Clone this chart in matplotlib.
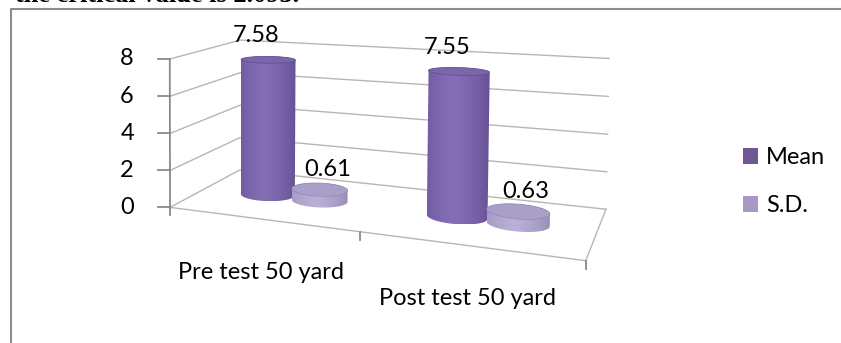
import numpy as np
import matplotlib.pyplot as plt
from matplotlib.patches import Polygon, Patch
from matplotlib.colors import to_rgb

categories = ["Pre test 50 yard", "Post test 50 yard"]
series_names = ["Mean", "S.D."]
mean_vals = [7.58, 7.55]
sd_vals = [0.61, 0.63]
y_ticks = [0, 2, 4, 6, 8]

# body colours: (edge shade, highlight, top face, legend)
palette = {
    "Mean": ("#624c92", "#8570b5", "#7b65ab", "#705793"),
    "S.D.": ("#9388b2", "#bbb1d8", "#aa9fc8", "#a898c4"),
}

plt.rcParams["font.family"] = ["Lato", "DejaVu Sans"]
FS = 17

W, H = 841, 343
fig = plt.figure(figsize=(W / 100, H / 100), dpi=100)
ax = fig.add_axes([0, 0, 1, 1])
ax.axis("off")

# screen anchors of the 3d plot box, (category u, depth w, value v) -> pixel
box_pts = [
    ((0, 0, 0), (170, 207)), ((0, 0, 2), (170, 170)), ((0, 0, 4), (170, 134)),
    ((0, 0, 6), (170, 97)), ((0, 0, 8), (170, 58)),
    ((0, 1, 0), (240, 170)), ((0, 1, 8), (240, 40)),
    ((2, 1, 0), (606, 208)), ((2, 1, 2), (607, 172)), ((2, 1, 4), (608, 135)),
    ((2, 1, 6), (608, 97)), ((2, 1, 8), (609, 58)),
    ((1, 0, 0), (359, 233)), ((2, 0, 0), (586, 260)),
]


def fit_camera(pts):
    rows = []
    for (u, w, v), (x, y) in pts:
        X = [u, w, v / 4, 1]
        rows.append(X + [0] * 4 + [-x / 100 * c for c in X])
        rows.append([0] * 4 + X + [-y / 100 * c for c in X])
    _, _, vt = np.linalg.svd(np.array(rows, dtype=float))
    return vt[-1].reshape(3, 4)


P = fit_camera(box_pts)


def project(u, w, v):
    u, w, v = np.broadcast_arrays(np.atleast_1d(u), np.atleast_1d(w), np.atleast_1d(v))
    X = np.vstack([u, w, v / 4, np.ones_like(u, dtype=float)])
    p = P @ X
    return p[0] / p[2] * 100, p[1] / p[2] * 100


def convex_hull(xs, ys):
    pts = sorted(set(zip(np.round(xs, 3), np.round(ys, 3))))

    def cross(o, a, b):
        return (a[0] - o[0]) * (b[1] - o[1]) - (a[1] - o[1]) * (b[0] - o[0])

    lower, upper = [], []
    for p in pts:
        while len(lower) >= 2 and cross(lower[-2], lower[-1], p) <= 0:
            lower.pop()
        lower.append(p)
    for p in reversed(pts):
        while len(upper) >= 2 and cross(upper[-2], upper[-1], p) <= 0:
            upper.pop()
        upper.append(p)
    return np.array(lower[:-1] + upper[:-1])


grid_kw = dict(color="#b6b6b6", lw=1.0, zorder=1)
axis_kw = dict(color="#8a8a8a", lw=1.3, zorder=2)

# value gridlines on the side and back walls
for t in y_ticks:
    x, y = project([0, 0, 2], [0, 1, 1], [t, t, t])
    ax.plot(x, y, **grid_kw)

# floor
x, y = project([0, 2, 2], [0, 0, 1], [0, 0, 0])
ax.plot(x, y, **grid_kw)

# value axis with tick marks
x, y = project([0, 0], [0, 0], [0, max(y_ticks)])
ax.plot(x, y, **axis_kw)
for t in y_ticks:
    tx, ty = project(0, 0, t)
    ax.plot([tx[0] - 12, tx[0]], [ty[0], ty[0]], **axis_kw)
    ax.text(tx[0] - 36, ty[0], str(t), ha="right", va="center", fontsize=FS)

# category ticks and labels
for i in range(len(categories) + 1):
    tx, ty = project(i, 0, 0)
    ax.plot([tx[0], tx[0]], [ty[0], ty[0] + 8], **axis_kw)
for i, name in enumerate(categories):
    tx, ty = project(i + 0.5, 0, 0)
    ax.text(tx[0], ty[0] + 53, name, ha="center", va="center", fontsize=FS)

bar_d = 0.29       # cylinder diameter along the category axis
bar_rw = 0.15      # cylinder radius along the depth axis
bar_w = 0.5        # depth position of the cylinders
label_off = {"Mean": (-12, -24), "S.D.": (8, -20)}


def shade_strip(c_edge, c_mid, n=200):
    t = np.linspace(0, 1, n)
    k = np.clip(1 - np.abs(t - 0.42) / 0.58, 0, 1) ** 0.6
    a, b = np.array(to_rgb(c_edge)), np.array(to_rgb(c_mid))
    return (a[None, :] * (1 - k[:, None]) + b[None, :] * k[:, None])[None, :, :]


theta = np.linspace(0, 2 * np.pi, 120)
z = 3
for ci in range(len(categories)):
    for si, (name, vals) in enumerate(zip(series_names, [mean_vals, sd_vals])):
        val = vals[ci]
        uc = ci + 0.5 + (si - 0.5) * bar_d
        cu = uc + bar_d / 2 * np.cos(theta)
        cw = bar_w + bar_rw * np.sin(theta)
        bx, by = project(cu, cw, 0)
        tx, ty = project(cu, cw, val)
        hull = convex_hull(np.r_[bx, tx], np.r_[by, ty])
        edge, mid, top, _ = palette[name]
        body = Polygon(hull, closed=True, facecolor="none", edgecolor="none", zorder=z)
        ax.add_patch(body)
        im = ax.imshow(shade_strip(edge, mid),
                       extent=(hull[:, 0].min(), hull[:, 0].max(), hull[:, 1].max(), hull[:, 1].min()),
                       aspect="auto", interpolation="bilinear", zorder=z)
        im.set_clip_path(body)
        ax.add_patch(Polygon(np.c_[tx, ty], closed=True, facecolor=top,
                             edgecolor=edge, lw=0.5, zorder=z + 0.5))
        lx, ly = project(uc, bar_w, val)
        dx, dy = label_off[name]
        ax.text(lx[0] + dx, ly[0] + dy, f"{val:.2f}", ha="center", va="center",
                fontsize=FS, zorder=10)
        z += 1

# legend
handles = [Patch(facecolor=palette[n][3], edgecolor="none") for n in series_names]
ax.legend(handles, series_names, loc="upper left", bbox_to_anchor=(722, 126),
          bbox_transform=ax.transData, frameon=False, fontsize=FS,
          handlelength=0.62, handleheight=0.62, handletextpad=0.35, labelspacing=1.15)

# chart frame and clipped caption above it
ax.plot([11, 11, W], [H, 9, 9], color="#8c8c8c", lw=1.5, zorder=1)
ax.text(15, 1.5, "the critical value is 2.093.", ha="left", va="baseline",
        fontsize=19, fontweight="bold", family="Liberation Serif")

ax.set_xlim(0, W)
ax.set_ylim(H, 0)
fig.savefig("out.png", dpi=100)
